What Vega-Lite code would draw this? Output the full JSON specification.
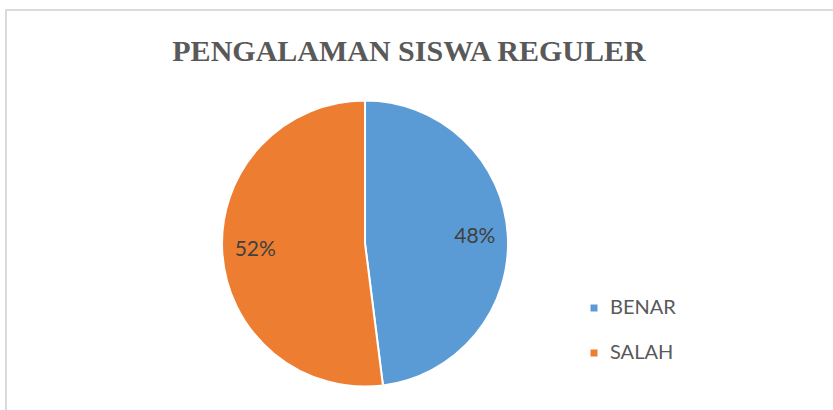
{
  "$schema": "https://vega.github.io/schema/vega-lite/v6.json",
  "width": 840,
  "height": 420,
  "autosize": {"type": "none"},
  "padding": {"left": 6, "top": 10, "right": 0, "bottom": 0},
  "background": "white",
  "config": {"view": {"stroke": null}},
  "title": {
    "text": "PENGALAMAN SISWA REGULER",
    "font": "Liberation Serif",
    "fontSize": 30,
    "fontWeight": "bold",
    "color": "#595959",
    "anchor": "middle",
    "frame": "group",
    "offset": -82,
    "baseline": "alphabetic",
    "dx": -17
  },
  "data": {
    "values": [
      {"kategori": "BENAR", "persen": 0.48},
      {"kategori": "SALAH", "persen": 0.52}
    ]
  },
  "layer": [
    {
      "mark": {"type": "rect", "fill": "transparent", "stroke": "#d9d9d9", "strokeWidth": 1.5},
      "encoding": {}
    },
    {
      "mark": {
        "type": "arc",
        "outerRadius": 143,
        "stroke": "white",
        "strokeWidth": 2,
        "x": {"expr": "width * 0.4274"},
        "y": {"expr": "height * 0.556"}
      },
      "encoding": {
        "theta": {"field": "persen", "type": "quantitative", "stack": true},
        "color": {
          "field": "kategori",
          "type": "nominal",
          "title": null,
          "scale": {"domain": ["BENAR", "SALAH"], "range": ["#5B9BD5", "#ED7D31"]},
          "legend": {
            "orient": "none",
            "legendX": 578,
            "legendY": 288,
            "padding": 0,
            "symbolType": "square",
            "symbolSize": 49,
            "symbolStrokeWidth": 0,
            "labelFont": "Lato",
            "labelFontSize": 20,
            "labelColor": "#595959",
            "labelOffset": 6,
            "rowPadding": 25
          }
        },
        "order": {"field": "kategori", "type": "nominal"}
      }
    },
    {
      "mark": {
        "type": "text",
        "radius": 110,
        "font": "Lato",
        "fontSize": 21,
        "x": {"expr": "width * 0.4274"},
        "y": {"expr": "height * 0.556"}
      },
      "encoding": {
        "theta": {"field": "persen", "type": "quantitative", "stack": true},
        "order": {"field": "kategori", "type": "nominal"},
        "color": {"value": "#404040"},
        "text": {"field": "persen", "type": "quantitative", "format": ".0%"}
      }
    }
  ]
}
